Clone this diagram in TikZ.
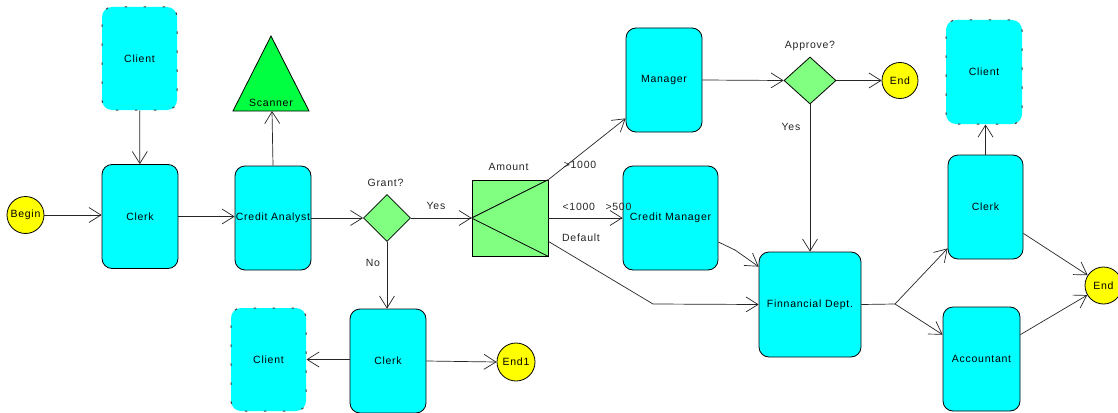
\documentclass[tikz,border=0pt]{standalone}
\usepackage{fontspec}
\setmainfont{Liberation Sans}[LetterSpace=7]
\usetikzlibrary{shapes.geometric,arrows.meta,calc}
\definecolor{actfill}{RGB}{0,255,255}
\definecolor{decfill}{RGB}{128,255,128}
\definecolor{scanfill}{RGB}{0,255,64}
\definecolor{termfill}{RGB}{255,255,0}
\begin{document}
\begin{tikzpicture}[x=1pt,y=-1pt,
  every node/.style={font=\fontsize{10.5}{12}\selectfont, inner sep=0pt},
  act/.style={rectangle, rounded corners=10pt, draw, line width=0.8pt, fill=actfill,
    minimum width=76pt, minimum height=104pt},
  party/.style={act, draw=black!75, line width=1pt, dash pattern=on 2.5pt off 16.5pt, dash phase=-2pt},
  term/.style={circle, draw, line width=0.8pt, fill=termfill, minimum size=37pt},
  dec/.style={diamond, draw, line width=0.8pt, fill=decfill, minimum width=#1, minimum height=47pt},
  lbl/.style={text=black!85},
  flow/.style={draw=black!85, line width=0.7pt, -{Straight Barb[length=12pt,width=15pt,line width=0.7pt]}},
  plain/.style={draw=black!85, line width=0.7pt}]
\clip (0,0) rectangle (1118,412);
\fill[white] (0,0) rectangle (1118,412);

% left column
\node[term] (begin) at (25.5,215) {Begin};
\node[party, minimum width=75pt, minimum height=103pt] (client1) at (139.5,58.5) {Client};
\node[act] (clerk1) at (140,216.5) {Clerk};
\node[act] (ca) at (273,218) {Credit Analyst};

% scanner
\draw[line width=0.8pt, fill=scanfill] (233,111) -- (271,36) -- (309,111) -- cycle;
\node (scanner) at (271,103) {Scanner};
\coordinate (scanbase) at (272,111);

% grant decision
\node[dec=47pt] (grant) at (387,218) {};
\node[lbl] (grantq) at (385.5,183) {Grant?};

% amount router
\node[rectangle, draw, line width=0.8pt, fill=decfill, minimum size=76pt] (amount) at (510,218) {};
\draw[line width=0.8pt] (amount.west) -- (amount.north east)
                        (amount.west) -- (amount.south east);
\node[lbl] (amountl) at (508.5,167) {Amount};

% lower branch
\node[act] (clerk2) at (388,361) {Clerk};
\node[party, minimum width=75pt, minimum height=103pt] (client2) at (268.5,359.5) {Client};
\node[term, minimum size=38pt] (end1) at (516,362) {End1};

% managers
\node[act] (manager) at (664,80) {Manager};
\node[act, minimum width=95pt] (cm) at (670.5,218) {Credit Manager};
\node[dec=52pt] (approve) at (810,80.5) {};
\node[lbl] (approveq) at (810,45.5) {Approve?};
\node[term, minimum size=36pt] (end2) at (900,80.5) {End};

\node[act, minimum width=102pt, minimum height=105pt] (fd) at (810,304.5) {Finnancial Dept.};
\coordinate (fork) at (895,304);

% right column
\node[party] (client3) at (984,72) {Client};
\node[act, minimum width=75pt] (clerk3) at (985.5,207) {Clerk};
\node[act, minimum width=77pt] (acct) at (981.5,359) {Accountant};
\node[term] (end3) at (1103.5,285.5) {End};

% connectors
\path[flow] (begin) -- (clerk1.west |- begin);
\path[flow] (client1) -- (clerk1);
\path[flow] (clerk1.east) -- (clerk1.east -| ca.west);
\path[flow] (ca.north) -- (scanbase);
\path[flow] (ca.east) -- (grant.west);
\path[flow] (grant.east) -- (amount.west);
\node[lbl] (yes1) at (436,206) {Yes};
\path[flow] (grant.south) -- (clerk2.north -| grant.south);
\node[lbl] (no1) at (373,263) {No};
\path[flow] (clerk2.west |- client2.east) -- (client2.east);
\path[flow] (clerk2.east) -- (end1.west);

\path[flow] (amount.north east) -- (manager.225);
\node[lbl] (gt1000) at (580,164.5) {>1000};
\path[flow] (amount.east) -- (cm.west);
\node[lbl] (mid) at (597,207) {<1000\hspace{1em}>500};
\coordinate (dbend) at (653,304);
\path[flow] ($(amount.south east)+(0,-15)$) -- (dbend) -- (fd.west);
\node[lbl] (default) at (581,238) {Default};
\path[flow] ($(cm.east)+(0,24)$) -- (735,250) -- ($(fd.north west)+(0,15)$);

\path[flow] (manager.east) -- (approve.west);
\path[flow] (approve.east) -- (end2.west);
\path[flow] (approve.south) -- (fd.north -| approve.south);
\node[lbl] (yes2) at (791,127) {Yes};

\path[plain] (fd.east) -- (fork);
\path[flow] (fork) -- ($(clerk3.south west)+(0,-11)$);
\path[flow] (fork) -- ($(acct.north west)+(0,28)$);
\path[flow] ($(clerk3.south east)+(0,-26)$) -- (end3);
\path[flow] ($(acct.north east)+(0,28)$) -- (end3);
\path[flow] (clerk3.north) -- (client3.south -| clerk3.north);
\end{tikzpicture}
\end{document}
